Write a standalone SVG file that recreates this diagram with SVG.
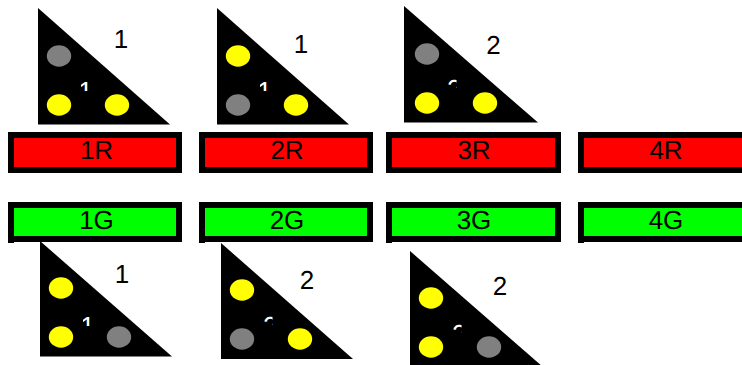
<svg xmlns="http://www.w3.org/2000/svg" width="742" height="365" viewBox="0 0 742 365">
<style>
text{font-family:"Liberation Sans",Arial,sans-serif;fill:#000;font-size:26px;text-rendering:geometricPrecision}
.t{fill:#000}
.l,.b{text-anchor:middle}
text.w{fill:#fff}
.y{fill:#ff0}
.g{fill:#808080}
.sr{fill:#f00;stroke:#000;stroke-width:6}
.sg{fill:#0f0;stroke:#000;stroke-width:6}
</style>
<defs>
<clipPath id="c1"><rect x="2.7" y="-19.5" width="7.5" height="10.9"/></clipPath>
<clipPath id="c2"><rect x="0" y="-20" width="9.5" height="10"/></clipPath>
</defs>
<rect width="742" height="365" fill="#fff"/>
<g id="sig1"><polygon class="t" points="38,8 38,124.5 170,124.5"/><ellipse class="g" cx="59" cy="56" rx="12.2" ry="10.7"/><ellipse class="y" cx="59" cy="105" rx="12.2" ry="10.7"/><ellipse class="y" cx="117" cy="105" rx="12.2" ry="10.7"/><g transform="translate(78.3,99.6)"><text class="w" clip-path="url(#c1)">1</text></g><text class="l" x="121" y="48">1</text></g>
<g id="sig2"><polygon class="t" points="217,8 217,124.5 349,124.5"/><ellipse class="y" cx="238" cy="56" rx="12.2" ry="10.7"/><ellipse class="g" cx="238" cy="105" rx="12.2" ry="10.7"/><ellipse class="y" cx="296" cy="105" rx="12.2" ry="10.7"/><g transform="translate(257.3,99.6)"><text class="w" clip-path="url(#c1)">1</text></g><text class="l" x="301" y="53">1</text></g>
<g id="sig3"><polygon class="t" points="404,6 404,122.5 538,122.5"/><ellipse class="g" cx="427" cy="54" rx="12.2" ry="10.7"/><ellipse class="y" cx="427" cy="103" rx="12.2" ry="10.7"/><ellipse class="y" cx="485" cy="103" rx="12.2" ry="10.7"/><g transform="translate(447,98)"><text class="w" clip-path="url(#c2)">2</text></g><text class="l" x="493.500" y="54">2</text></g>
<g id="n1R"><rect class="sr" x="11" y="135" width="168" height="35"/><text class="b" x="96.500" y="159">1R</text></g>
<g id="n2R"><rect class="sr" x="202" y="135" width="168" height="35"/><text class="b" x="287" y="159">2R</text></g>
<g id="n3R"><rect class="sr" x="389" y="135" width="169" height="35"/><text class="b" x="474" y="159">3R</text></g>
<g id="n4R"><rect class="sr" x="581" y="135" width="170" height="35"/><text class="b" x="666" y="159">4R</text></g>
<g id="n1G"><rect x="8" y="202" width="6" height="41"/><rect class="sg" x="11" y="205" width="168" height="34"/><text class="b" x="96.500" y="229">1G</text></g>
<g id="n2G"><rect x="199" y="202" width="6" height="41"/><rect class="sg" x="202" y="205" width="168" height="34"/><text class="b" x="287" y="229">2G</text></g>
<g id="n3G"><rect x="386" y="202" width="6" height="41"/><rect class="sg" x="389" y="205" width="169" height="34"/><text class="b" x="474" y="229">3G</text></g>
<g id="n4G"><rect x="578" y="202" width="6" height="41"/><rect class="sg" x="581" y="205" width="170" height="34"/><text class="b" x="666" y="229">4G</text></g>
<g id="sig4"><polygon class="t" points="40,241 40,356.500 172,356.500"/><ellipse class="y" cx="61" cy="288" rx="12.2" ry="10.7"/><ellipse class="y" cx="61" cy="337" rx="12.2" ry="10.7"/><ellipse class="g" cx="119" cy="337" rx="12.2" ry="10.7"/><g transform="translate(80.3,334.6)"><text class="w" clip-path="url(#c1)">1</text></g><text class="l" x="122" y="283">1</text></g>
<g id="sig5"><polygon class="t" points="221,243 221,359 353,359"/><ellipse class="y" cx="242" cy="290" rx="12.2" ry="10.7"/><ellipse class="g" cx="242" cy="339" rx="12.2" ry="10.7"/><ellipse class="y" cx="300" cy="339" rx="12.2" ry="10.7"/><g transform="translate(263,335)"><text class="w" clip-path="url(#c2)">2</text></g><text class="l" x="307" y="289">2</text></g>
<g id="sig6"><polygon class="t" points="410,251 410,367 543,367"/><ellipse class="y" cx="431" cy="298" rx="12.2" ry="10.7"/><ellipse class="y" cx="431" cy="347" rx="12.2" ry="10.7"/><ellipse class="g" cx="489" cy="347" rx="12.2" ry="10.7"/><g transform="translate(452,342.5)"><text class="w" clip-path="url(#c2)">2</text></g><text class="l" x="500" y="295">2</text></g>
<g id="connectors"/>
</svg>
